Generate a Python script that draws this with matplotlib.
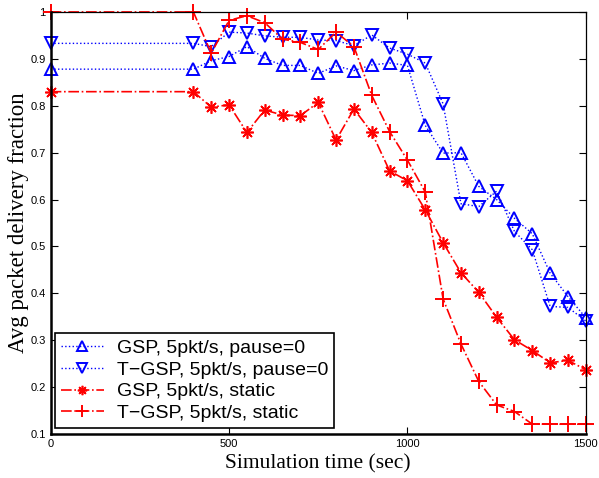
import numpy as np
import matplotlib.pyplot as plt

time = [0, 400, 450, 500, 550, 600, 650, 700, 750, 800, 850, 900,
        950, 1000, 1050, 1100, 1150, 1200, 1250, 1300, 1350, 1400, 1450, 1500]
gsp_pause = [0.878, 0.878, 0.896, 0.905, 0.926, 0.901, 0.886, 0.886, 0.869, 0.885, 0.875, 0.887,
             0.891, 0.886, 0.758, 0.699, 0.700, 0.628, 0.600, 0.560, 0.527, 0.443, 0.393, 0.348]
tgsp_pause = [0.933, 0.933, 0.926, 0.957, 0.955, 0.949, 0.946, 0.946, 0.940, 0.939, 0.928, 0.951,
              0.923, 0.910, 0.891, 0.804, 0.591, 0.585, 0.618, 0.532, 0.493, 0.372, 0.370, 0.341]
gsp_static = [0.830, 0.830, 0.797, 0.802, 0.743, 0.791, 0.780, 0.779, 0.807, 0.727, 0.793, 0.743,
              0.661, 0.640, 0.578, 0.508, 0.444, 0.402, 0.349, 0.301, 0.278, 0.252, 0.257, 0.237]
tgsp_static = [1.0, 1.0, 0.912, 0.982, 0.992, 0.977, 0.942, 0.935, 0.920, 0.957, 0.926, 0.822,
               0.745, 0.684, 0.616, 0.388, 0.292, 0.212, 0.162, 0.148, 0.121, 0.121, 0.121, 0.121]

fig = plt.figure(figsize=(5.99, 4.78), dpi=100)
ax = fig.add_axes([0.0846, 0.092, 0.978 - 0.0846, 0.975 - 0.092])

ax.plot(time, gsp_pause, color='blue', linestyle=':', linewidth=1, marker='^', clip_on=False,
        markersize=9, markerfacecolor='none', markeredgewidth=1.4, label='GSP, 5pkt/s, pause=0')
ax.plot(time, tgsp_pause, color='blue', linestyle=':', linewidth=1, marker='v', clip_on=False,
        markersize=9, markerfacecolor='none', markeredgewidth=1.4, label='T\u2212GSP, 5pkt/s, pause=0')
ax.plot(time, gsp_static, color='red', linestyle='-.', linewidth=1.2, marker=(8, 2, 0), clip_on=False,
        markersize=9, markeredgewidth=1.2, label='GSP, 5pkt/s, static')
ax.plot(time, tgsp_static, color='red', linestyle='-.', linewidth=1.2, marker='+', clip_on=False,
        markersize=11, markeredgewidth=1.4, label='T\u2212GSP, 5pkt/s, static')

ax.set_xlim(0, 1500)
ax.set_ylim(0.1, 1.0)
ax.set_xticks([0, 500, 1000, 1500])
ax.set_yticks(np.arange(0.1, 1.01, 0.1))
ax.set_yticklabels(['0.1', '0.2', '0.3', '0.4', '0.5', '0.6', '0.7', '0.8', '0.9', '1'])
ax.tick_params(direction='in', top=True, right=True, length=5, labelsize=8)
for lab in ax.get_xticklabels() + ax.get_yticklabels():
    lab.set_fontfamily('Liberation Sans')
ax.spines['left'].set_linewidth(1.8)
ax.spines['bottom'].set_linewidth(1.8)
ax.spines['top'].set_linewidth(0.9)
ax.spines['right'].set_linewidth(0.9)

ax.set_xlabel('Simulation time (sec)', fontfamily='Liberation Serif', fontsize=15.5, labelpad=4)
ax.set_ylabel('Avg packet delivery fraction', fontfamily='Liberation Serif', fontsize=16.5, labelpad=1)

leg = ax.legend(loc='lower left', bbox_to_anchor=(0.008, 0.014), fancybox=False,
                edgecolor='black', framealpha=1, handlelength=2.2, handletextpad=0.7,
                borderpad=0.3, labelspacing=0.22, borderaxespad=0, markerscale=0.75,
                prop={'family': 'Liberation Sans', 'size': 14})
leg.get_frame().set_linewidth(1.2)
leg.set_zorder(5)

fig.savefig('out.png', dpi=100)
